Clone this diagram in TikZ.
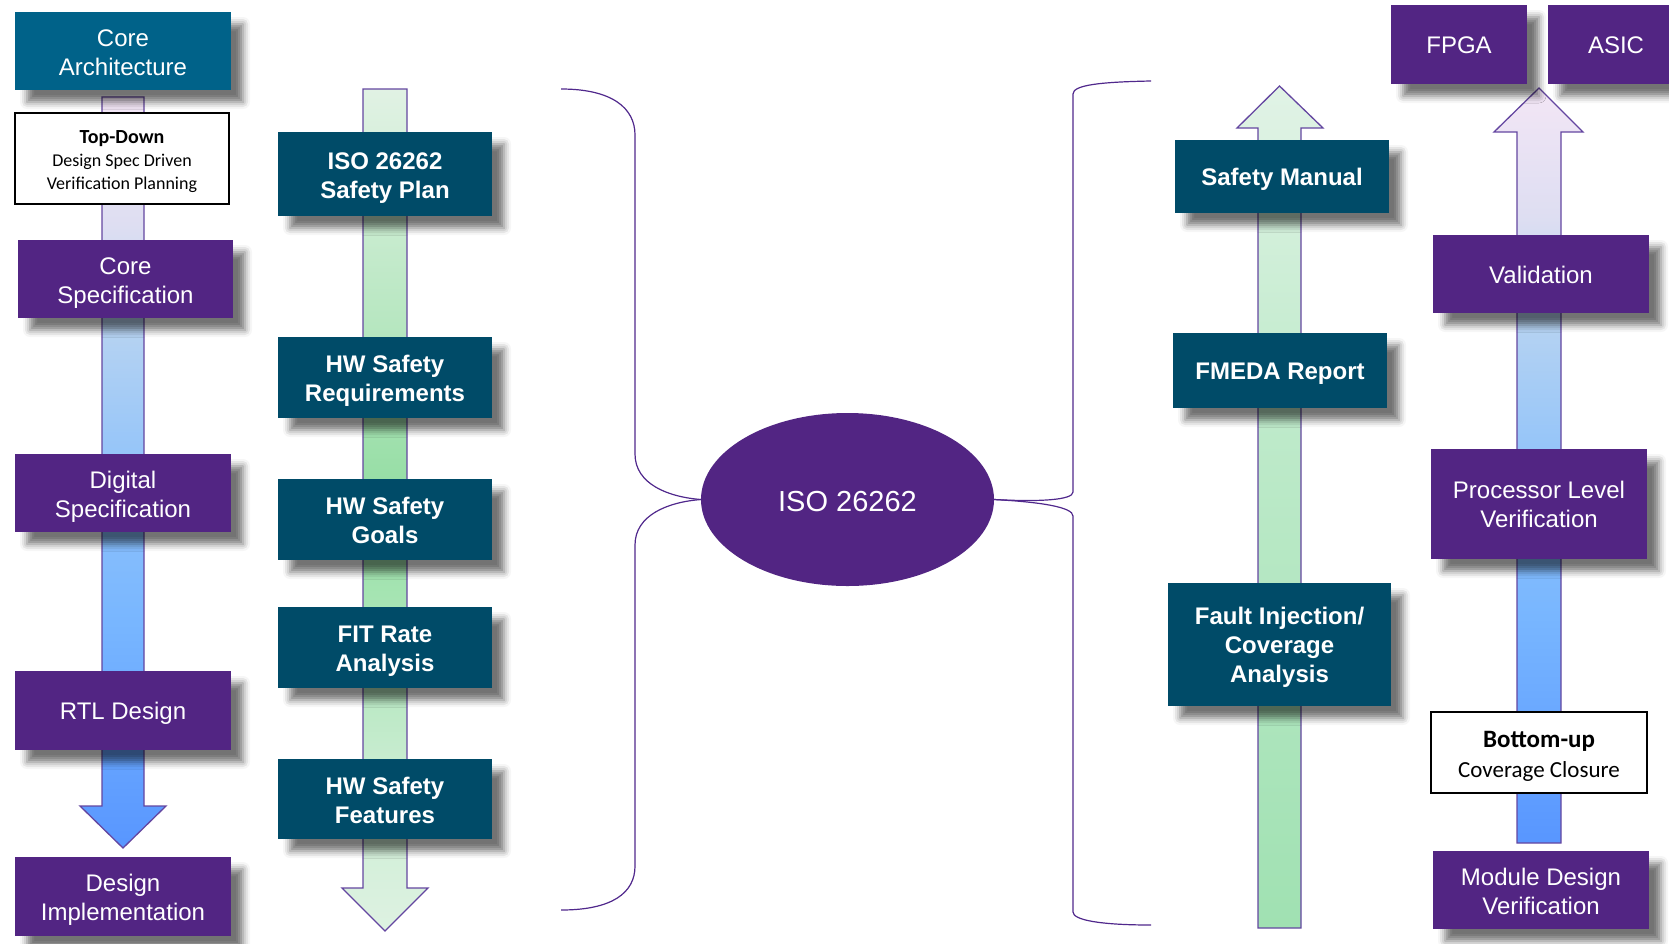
\documentclass[tikz,border=0pt]{standalone}
\usepackage{fontspec}
\setmainfont{Liberation Sans}
\newfontfamily\calib{Carlito}
\usetikzlibrary{shapes.geometric,shadows.blur}
\definecolor{purp}{RGB}{82,37,131}
\definecolor{dteal}{RGB}{0,75,104}
\definecolor{lteal}{RGB}{0,98,137}
\definecolor{arrline}{RGB}{100,70,160}
\definecolor{brk}{RGB}{80,40,140}
\definecolor{cbA}{RGB}{243,230,245}
\definecolor{cbB}{RGB}{222,222,242}
\definecolor{cbC}{RGB}{180,210,242}
\definecolor{cbD}{RGB}{145,195,250}
\definecolor{cbE}{RGB}{120,182,255}
\definecolor{cbF}{RGB}{88,150,255}
\definecolor{cgA}{RGB}{225,242,228}
\definecolor{cgB}{RGB}{180,230,190}
\definecolor{cgC}{RGB}{150,222,165}
\definecolor{cgD}{RGB}{165,228,178}
\definecolor{cgE}{RGB}{200,236,208}
\definecolor{cgF}{RGB}{222,242,226}
\definecolor{chA}{RGB}{225,243,230}
\definecolor{chB}{RGB}{190,234,202}
\definecolor{chC}{RGB}{160,225,178}
\pgfdeclareverticalshading{bluegrad}{100bp}{color(0bp)=(cbF); color(25bp)=(cbF); color(40bp)=(cbE); color(50bp)=(cbD); color(59bp)=(cbC); color(66.5bp)=(cbB); color(75bp)=(cbA); color(100bp)=(cbA)}
\pgfdeclareverticalshading{greengradL}{100bp}{color(0bp)=(cgF); color(25bp)=(cgF); color(35bp)=(cgE); color(45bp)=(cgD); color(51.5bp)=(cgC); color(60bp)=(cgB); color(75bp)=(cgA); color(100bp)=(cgA)}
\pgfdeclareverticalshading{greengradR}{100bp}{color(0bp)=(chC); color(25bp)=(chC); color(55bp)=(chB); color(75bp)=(chA); color(100bp)=(chA)}
% text block whose first baseline sits #1 above the node centre
\newcommand{\tx}[2]{\raisebox{#1}[0pt][0pt]{\begin{tabular}[t]{@{}c@{}}#2\end{tabular}}}
\newcommand{\txa}[1]{\tx{-9.4pt}{#1}}
\newcommand{\txb}[1]{\tx{5pt}{#1}}
\newcommand{\txc}[1]{\tx{19.6pt}{#1}}
\begin{document}
\begin{tikzpicture}[x=1pt,y=-1pt,
  box/.style={rectangle, inner sep=0pt, outer sep=0pt, text=white,
    blur shadow={shadow xshift=12pt, shadow yshift=-12pt, shadow blur radius=7pt, shadow opacity=55}},
  pbox/.style={box, fill=purp, font=\fontsize{24}{29}\selectfont},
  abox/.style={box, fill=lteal, font=\fontsize{24}{29}\selectfont},
  tbox/.style={box, fill=dteal, font=\fontsize{24}{29}\selectfont\bfseries},
  wbox/.style={rectangle, draw=black, line width=1.5pt, fill=white, inner sep=0pt, text=black},
  arrowshape/.style={draw=arrline, line width=1.3pt},
  bracket/.style={draw=brk, line width=1.2pt}]
\useasboundingbox (0,0) rectangle (1669,943);
\clip (0,0) rectangle (1669,943);

% block arrows
\shadedraw[arrowshape, shading=bluegrad] (102,97) -- (144,97) -- (144,806) -- (166,806) -- (123,848) -- (80,806) -- (102,806) -- cycle;
\shadedraw[arrowshape, shading=greengradL] (363,89) -- (407,89) -- (407,888) -- (428,888) -- (385,931) -- (342,888) -- (363,888) -- cycle;
\shadedraw[arrowshape, shading=greengradR] (1258,928) -- (1301,928) -- (1301,128) -- (1323,128) -- (1279.5,86) -- (1237,128) -- (1258,128) -- cycle;
\shadedraw[arrowshape, shading=bluegrad] (1517,843) -- (1561,843) -- (1561,132) -- (1583,132) -- (1539,88) -- (1494,132) -- (1517,132) -- cycle;

% left column
\node[abox, minimum width=216, minimum height=78] (corearch) at (123,51) {\txb{Core\\Architecture}};
\node[wbox, minimum width=214, minimum height=91, font=\calib\fontsize{18}{23}\selectfont] (topdown) at (122,158.5)
  {\tx{15.5pt}{{\bfseries\fontsize{20}{23}\selectfont Top-Down}\\Design Spec Driven\\Verification Planning}};
\node[pbox, minimum width=215, minimum height=78] (corespec) at (125.5,279) {\txb{Core\\Specification}};
\node[pbox, minimum width=216, minimum height=78] (digspec) at (123,493) {\txb{Digital\\Specification}};
\node[pbox, minimum width=216, minimum height=79] (rtl) at (123,710.5) {\txa{RTL Design}};
\node[pbox, minimum width=216, minimum height=79] (impl) at (123,896.5) {\txb{Design\\Implementation}};

% second column
\node[tbox, minimum width=214, minimum height=84] (plan) at (385,174) {\txb{ISO 26262\\Safety Plan}};
\node[tbox, minimum width=214, minimum height=81] (req) at (385,377.5) {\txb{HW Safety\\Requirements}};
\node[tbox, minimum width=214, minimum height=81] (goals) at (385,519.5) {\txb{HW Safety\\Goals}};
\node[tbox, minimum width=214, minimum height=81] (fit) at (385,647.5) {\txb{FIT Rate\\Analysis}};
\node[tbox, minimum width=214, minimum height=80] (feat) at (385,799) {\txb{HW Safety\\Features}};

% centre
\node[ellipse, fill=purp, minimum width=293, minimum height=173, inner sep=0pt, outer sep=0pt,
  text=white, font=\fontsize{29}{34}\selectfont] (iso) at (847.5,499.5) {\tx{-11.5pt}{ISO 26262}};

% brackets
\coordinate (lt) at (561,89);
\coordinate (lb) at (561,910);
\coordinate (rt) at (1151,81);
\coordinate (rb) at (1151,925);
\draw[bracket] (lt) .. controls (612,89) and (635,108) .. (635,135) -- (635,454)
  .. controls (635,484) and (668,497) .. (iso.west);
\draw[bracket] (iso.west) .. controls (668,502) and (635,515) .. (635,545) -- (635,866)
  .. controls (635,893) and (612,910) .. (lb);
\draw[bracket] (rt) .. controls (1100,82) and (1073,85) .. (1073,94) -- (1073,492)
  .. controls (1073,500) and (1040,502) .. (iso.east);
\draw[bracket] (iso.east) .. controls (1040,502) and (1073,507) .. (1073,516) -- (1073,912)
  .. controls (1073,920) and (1100,925) .. (rb);

% third column
\node[tbox, minimum width=214, minimum height=73] (manual) at (1282,176.5) {\txa{Safety Manual}};
\node[tbox, minimum width=214, minimum height=75] (fmeda) at (1280,370.5) {\txa{FMEDA Report}};
\node[tbox, minimum width=223, minimum height=123] (fault) at (1279.5,644.5) {\txc{Fault Injection/\\Coverage\\Analysis}};

% fourth column
\node[pbox, minimum width=136, minimum height=79] (fpga) at (1459,44.5) {\txa{FPGA}};
\node[pbox, minimum width=136, minimum height=79] (asic) at (1616,44.5) {\txa{ASIC}};
\node[pbox, minimum width=216, minimum height=78] (valid) at (1541,274) {\txa{Validation}};
\node[pbox, minimum width=216, minimum height=110] (proc) at (1539,504) {\tx{5.9pt}{Processor Level\\Verification}};
\node[wbox, minimum width=216, minimum height=81, font=\calib\fontsize{23}{30}\selectfont] (bottomup) at (1539,752.5)
  {\tx{5.5pt}{{\bfseries\fontsize{25}{30}\selectfont Bottom-up}\\Coverage Closure}};
\node[pbox, minimum width=216, minimum height=78] (module) at (1541,890) {\txb{Module Design\\Verification}};
\end{tikzpicture}
\end{document}
